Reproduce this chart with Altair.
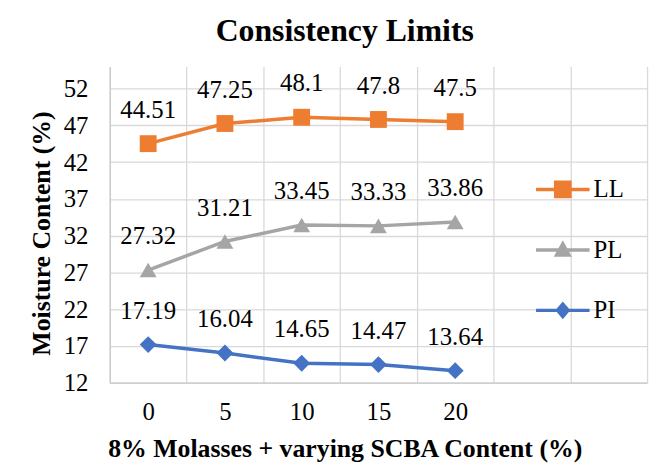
import altair as alt
import pandas as pd

# ---- data ----
x_labels = ["0", "5", "10", "15", "20"]
x_domain = ["0", "5", "10", "15", "20", "25", "30"]
series = ["LL", "PL", "PI"]
ll_values = [44.51, 47.25, 48.1, 47.8, 47.5]
pl_values = [27.32, 31.21, 33.45, 33.33, 33.86]
pi_values = [17.19, 16.04, 14.65, 14.47, 13.64]
y_ticks = [12, 17, 22, 27, 32, 37, 42, 47, 52]

colors = ["#ED7D31", "#A5A5A5", "#4472C4"]
marker_shapes = ["square", "triangle-up", "diamond"]
legend_shapes = [
    "M-1,-0.065H1V0.065H-1Z M-0.33,-0.33H0.33V0.33H-0.33Z",
    "M-1,-0.065H1V0.065H-1Z M0,-0.36L0.34,0.26H-0.34Z",
    "M-1,-0.065H1V0.065H-1Z M0,-0.33L0.28,0L0,0.33L-0.28,0Z",
]

rows = []
for s, vals in zip(series, [ll_values, pl_values, pi_values]):
    for x, v in zip(x_labels, vals):
        rows.append({"x": x, "series": s, "value": v, "label": f"{v:g}"})
df = pd.DataFrame(rows)

FONT = "Liberation Serif"

x_enc = alt.X(
    "x:N",
    sort=x_domain,
    bandPosition=0.5,
    scale=alt.Scale(type="band", domain=x_domain, paddingInner=0, paddingOuter=0),
    axis=alt.Axis(
        title="8% Molasses + varying SCBA Content (%)",
        labelExpr="(datum.value == '25' || datum.value == '30') ? '' : datum.value",
        labelAngle=0,
        tickBand="extent",
        grid=True,
        ticks=False,
        labelPadding=17,
        titlePadding=11,
        titleX=237,
    ),
)
y_enc = alt.Y(
    "value:Q",
    scale=alt.Scale(domain=[12, 55], nice=False, zero=False),
    axis=alt.Axis(
        title="Moisture Content (%)",
        values=y_ticks,
        ticks=False,
        grid=True,
        labelPadding=22,
        titlePadding=9,
        titleY=168,
    ),
)
color_scale = alt.Scale(domain=series, range=colors)

base = alt.Chart(df)

lines = base.mark_line(strokeWidth=3.5).encode(
    x=x_enc, y=y_enc,
    color=alt.Color("series:N", scale=color_scale, legend=None),
    detail="series:N",
)
points = base.mark_point(filled=True, opacity=1, size=289).encode(
    x=x_enc, y=y_enc,
    color=alt.Color("series:N", scale=color_scale, legend=None),
    shape=alt.Shape("series:N", scale=alt.Scale(domain=series, range=marker_shapes), legend=None),
)
labels = base.mark_text(dy=-34, fontSize=25, font=FONT, color="black").encode(
    x=x_enc, y=y_enc, text="label:N",
)
legend_opts = dict(
    title=None, orient="none", legendX=430, legendY=97,
    symbolSize=2916, symbolStrokeWidth=0, labelFont=FONT,
    labelFontSize=25, labelColor="black", rowPadding=21,
    padding=0, labelOffset=4,
)
legend_layer = base.transform_filter("false").mark_point(filled=True, opacity=1).encode(
    x=x_enc, y=y_enc,
    color=alt.Color("series:N", scale=color_scale, legend=alt.Legend(**legend_opts)),
    shape=alt.Shape(
        "series:N", scale=alt.Scale(domain=series, range=legend_shapes),
        legend=alt.Legend(**legend_opts),
    ),
)

chart = (
    alt.layer(lines, points, labels, legend_layer)
    .resolve_scale(color="independent", shape="independent")
    .properties(
        width=542,
        height=319,
        autosize="none",
        padding={"left": 102.7, "top": 57, "right": 8, "bottom": 85},
        title=alt.TitleParams(
            "Consistency Limits", font=FONT, fontSize=32, fontWeight="bold",
            color="black", anchor="middle", dx=-34, offset=19,
        ),
    )
    .configure_view(stroke=None)
    .configure_axis(
        labelFont=FONT, labelFontSize=25, labelColor="black",
        titleFont=FONT, titleFontSize=26, titleFontWeight="bold", titleColor="black",
        gridColor="#d9d9d9", gridWidth=1.3, domainColor="#c8c8c8", domainWidth=1.3,
    )
)

chart.save("out.html", embed_options={"renderer": "svg", "actions": False})
